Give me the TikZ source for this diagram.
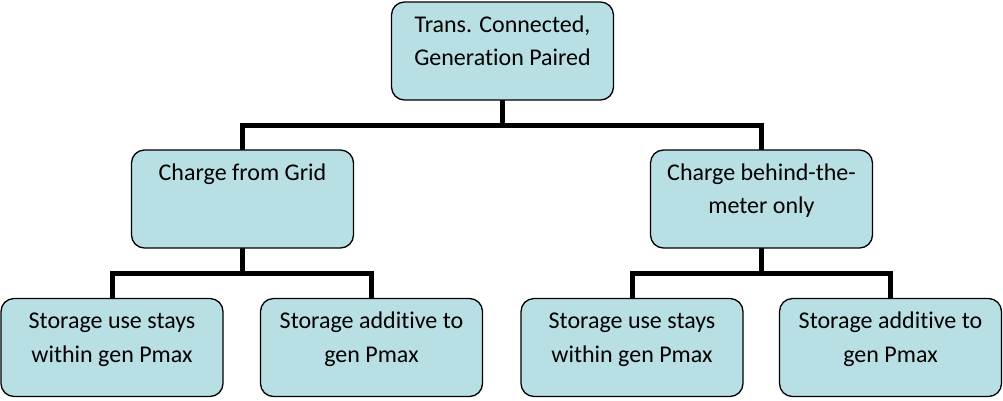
\documentclass[tikz,border=0pt]{standalone}
\usepackage{fontspec}
\setmainfont{Carlito}[RawFeature=-liga]
\usetikzlibrary{backgrounds}
\definecolor{boxfill}{HTML}{B8DFE3}
% text set at the top of a fixed-size box
\newcommand\boxtext[1]{\parbox[c][98pt][t]{222pt}{\centering\fontsize{24}{33.5}\selectfont\rule{0pt}{30pt}#1}}
\begin{document}
\begin{tikzpicture}[x=1pt,y=-1pt,
  box/.style={draw=black, line width=1.3pt, fill=boxfill, rounded corners=13pt,
              inner sep=0pt, outer sep=0pt, minimum width=222pt, minimum height=98pt},
  link/.style={line width=5pt, draw=black}]
\useasboundingbox (0,0) rectangle (1003,400);

% level 0
\node[box] (root) at (502.5,51) {\boxtext{Trans. Connected,\\Generation Paired}};
% level 1
\node[box] (grid) at (242.5,199) {\boxtext{Charge from Grid}};
\node[box] (btm)  at (761.5,199) {\boxtext{Charge behind-the-\\meter only}};
% level 2
\node[box] (g1) at (112,347.5)   {\boxtext{Storage use stays\\within gen Pmax}};
\node[box] (g2) at (371.5,347.5) {\boxtext{Storage additive to\\gen Pmax}};
\node[box] (b1) at (632,347.5)   {\boxtext{Storage use stays\\within gen Pmax}};
\node[box] (b2) at (890.5,347.5) {\boxtext{Storage additive to\\gen Pmax}};

% elbow connectors behind the boxes
\begin{scope}[on background layer]
  \draw[link] (root.south) -- ++(0,25) -| (grid.north);
  \draw[link] (root.south) -- ++(0,25) -| (btm.north);
  \draw[link] (grid.south) -- ++(0,25) -| (g1.north);
  \draw[link] (grid.south) -- ++(0,25) -| (g2.north);
  \draw[link] (btm.south) -- ++(0,25) -| (b1.north);
  \draw[link] (btm.south) -- ++(0,25) -| (b2.north);
\end{scope}
\end{tikzpicture}
\end{document}
